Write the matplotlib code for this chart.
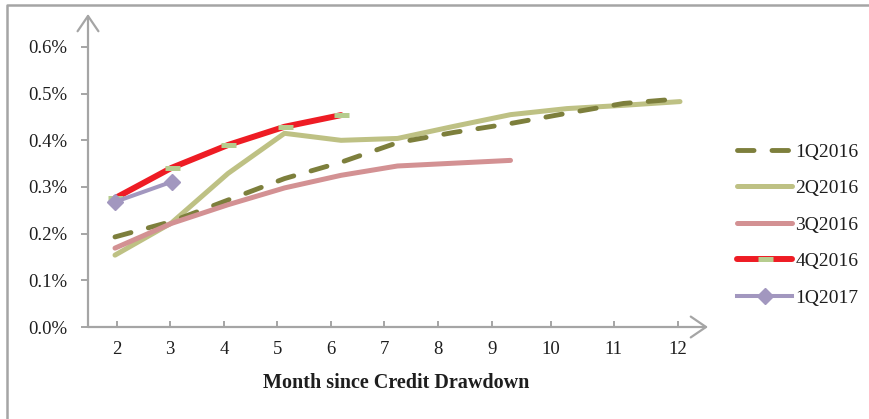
import matplotlib
matplotlib.use("Agg")
import matplotlib.pyplot as plt
from matplotlib.lines import Line2D

# ---- data (default rate, %) by month since credit drawdown ----
months = [2, 3, 4, 5, 6, 7, 8, 9, 10, 11, 12]
q1_2016 = [0.193, 0.226, 0.272, 0.318, 0.353, 0.395, 0.417, 0.436, 0.458, 0.479, 0.489]
q2_2016 = [0.154, 0.223, 0.329, 0.415, 0.400, 0.404, 0.430, 0.455, 0.468, 0.475, 0.483]
q3_2016 = [0.169, 0.222, 0.262, 0.298, 0.325, 0.345, 0.351, 0.357]
q4_2016 = [0.276, 0.341, 0.390, 0.429, 0.454]
q1_2017 = [0.268, 0.311]

series_names = ["1Q2016", "2Q2016", "3Q2016", "4Q2016", "1Q2017"]
x_tick_labels = ["2", "3", "4", "5", "6", "7", "8", "9", "10", "11", "12"]
y_ticks = [0.0, 0.1, 0.2, 0.3, 0.4, 0.5, 0.6]

# positions of the hand-placed month labels along the axis
x_label_pos = [2.03, 2.97, 3.93, 4.87, 5.82, 6.76, 7.72, 8.68, 9.71, 10.83, 11.96]

W, H = 870, 419
GRAY = "#A5A5A5"
TXT = "#1E1E1E"
FONT = "Liberation Serif"

plt.rcParams["font.family"] = [FONT, "DejaVu Serif"]

fig = plt.figure(figsize=(W / 100, H / 100), dpi=100)
ax = fig.add_axes([88 / W, (H - 327) / H, (708 - 88) / W, (327 - 14) / H])

ax.set_xlim(2 - 27 / 56.5, 2 + (708 - 115) / 56.5)
ax.set_ylim(0, 313 / 466.7)

for s in ax.spines.values():
    s.set_visible(False)

c1 = "#7D7F3C"
c2 = "#BEC184"
c3 = "#D39193"
c4 = "#EE1C24"
c5 = "#A297BF"

l1, = ax.plot(months[:len(q1_2016)], q1_2016, color=c1, lw=3.5,
              dashes=(3.4, 3.7), dash_capstyle="round", zorder=3)
l2, = ax.plot(months[:len(q2_2016)], q2_2016, color=c2, lw=3.6,
              solid_capstyle="round", zorder=2)
l3, = ax.plot(months[:len(q3_2016)], q3_2016, color=c3, lw=3.6,
              solid_capstyle="round", zorder=4)
l4, = ax.plot(months[:len(q4_2016)], q4_2016, color=c4, lw=4.3,
              solid_capstyle="round", marker="_", markersize=10.8,
              markeredgewidth=3.6, markeredgecolor="#B6CC8E", zorder=5)
l5, = ax.plot(months[:len(q1_2017)], q1_2017, color=c5, lw=2.9,
              marker="D", markersize=8, markerfacecolor=c5,
              markeredgecolor=c5, zorder=6)

# arrowed axes
arrow = dict(arrowstyle="->,head_length=1.1,head_width=0.75", color=GRAY,
             lw=1.6, shrinkA=0, shrinkB=0, mutation_scale=10)
ax.annotate("", xy=(1, 0), xytext=(0, 0), xycoords="axes fraction",
            textcoords="axes fraction", arrowprops=arrow, annotation_clip=False)
ax.annotate("", xy=(0, 1), xytext=(0, 0), xycoords="axes fraction",
            textcoords="axes fraction", arrowprops=arrow, annotation_clip=False)

ax.set_yticks(y_ticks)
ax.set_yticklabels([f"{v:.1f}%" for v in y_ticks])
ax.set_xticks(x_label_pos)
ax.set_xticklabels(x_tick_labels)
ax.tick_params(axis="y", direction="out", length=5.2, width=1.4, color=GRAY,
               pad=10, labelsize=13.5, labelcolor=TXT)
ax.tick_params(axis="x", direction="in", length=4.2, width=1.4, color=GRAY,
               pad=10, labelsize=13.5, labelcolor=TXT)

fig.text(396 / W, 1 - 383 / H, "Month since Credit Drawdown", ha="center",
         va="center", fontsize=14.5, fontweight="bold", color=TXT)

ax.legend([l1, l2, l3, l4, l5], series_names, loc="upper left",
          bbox_to_anchor=(737 / W, 1 - 143 / H), bbox_transform=fig.transFigure,
          frameon=False, borderpad=0, borderaxespad=0, handlelength=2.83,
          handletextpad=0.18, labelspacing=0.97, fontsize=14,
          labelcolor=TXT)

# outer frame (top and left edges)
fig.add_artist(Line2D([7 / W, 7 / W, 1], [0, 1 - 5 / H, 1 - 5 / H],
                      transform=fig.transFigure, color=GRAY, lw=1.8))

fig.savefig("out.png", dpi=100)
